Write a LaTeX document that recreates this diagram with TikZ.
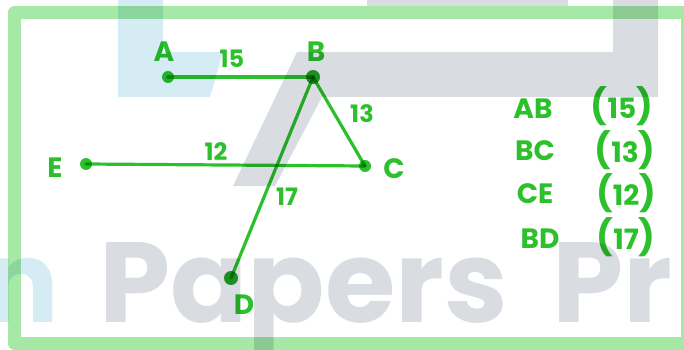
\documentclass[tikz,border=0pt]{standalone}
\usepackage{fontspec}
\setmainfont{Poppins}
\newfontfamily\wmfont{Poppins}
\newfontfamily\hand{Poppins}
\definecolor{fgreen}{RGB}{44,192,44}
\definecolor{dgreen}{RGB}{34,165,40}
\definecolor{framegreen}{RGB}{166,232,166}
\definecolor{wmgray}{RGB}{217,221,225}
\definecolor{wmblue}{RGB}{214,236,245}
\tikzset{
  dotnode/.style={circle,fill=fgreen,inner sep=0pt,minimum size=12pt},
  bigdot/.style={circle,fill=dgreen,inner sep=0pt,minimum size=14pt},
  edge/.style={draw=fgreen,line width=3.2pt,line cap=round},
  letter/.style={text=fgreen,inner sep=0pt,anchor=base,font=\hand\bfseries\fontsize{28}{28}\selectfont},
  num/.style={text=fgreen,inner sep=0pt,anchor=base,font=\hand\bfseries\fontsize{24}{24}\selectfont},
  listtxt/.style={text=fgreen,inner sep=0pt,anchor=base,font=\hand\bfseries\fontsize{28}{28}\selectfont},
  wmtext/.style={inner sep=0pt,anchor=base west,font=\wmfont\bfseries\fontsize{114}{114}\selectfont},
}
\newcommand{\bigpar}[1]{{\fontsize{35}{35}\selectfont #1}}
\begin{document}
\begin{tikzpicture}[x=1pt,y=-1pt]
\useasboundingbox (0,0) rectangle (684,350);
% watermark
\fill[wmblue] (118,0) -- (163,0) -- (163,52) -- (223,52) -- (210,97) -- (118,97) -- cycle;
\fill[wmgray] (367,0) rectangle (568,6);
\fill[wmgray] (297,52) -- (613,52) -- (613,0) -- (658,0) -- (658,97) -- (322,97) -- (275,186) -- (233,186) -- cycle;
\node[wmtext,text=wmblue,anchor=base east] (wmn) at (60,322) {n};
\node[wmtext,text=wmgray] (wmpapers) at (99,322) {Papers};
\node[wmtext,text=wmgray] (wmpr) at (552,322) {Pr};
\begin{scope}[blend mode=multiply]
% frame
\draw[framegreen,line width=13pt,line join=round] (14.5,12.5) rectangle (687,343.5);
% points
\node[dotnode] (A) at (168,77) {};
\node[bigdot] (B) at (313,77) {};
\node[dotnode] (C) at (365,166) {};
\node[dotnode] (E) at (86,164) {};
\node[bigdot] (D) at (231,278) {};
% edges
\draw[edge] (A.center) -- (B.center);
\draw[edge] (B.center) -- (C.center);
\draw[edge] (E.center) -- (C.center);
\draw[edge] (B.center) -- (D.center);
% labels
\node[letter] (lA) at (164,62) {A};
\node[letter] (lB) at (316,62) {B};
\node[letter] (lC) at (394,178) {C};
\node[letter] (lE) at (55,177) {E};
\node[letter] (lD) at (244,314) {D};
\node[num] (n15) at (232,68) {15};
\node[num] (n13) at (362,122) {13};
\node[num] (n12) at (216,160) {12};
\node[num] (n17) at (287,205) {17};
% list
\node[listtxt] (tAB) at (533,118) {AB};
\node[listtxt] (tBC) at (535,160) {BC};
\node[listtxt] (tCE) at (535,203) {CE};
\node[listtxt] (tBD) at (540,248) {BD};
\node[listtxt] (v15) at (622,118) {\bigpar{(}15\bigpar{)}};
\node[listtxt] (v13) at (625,162) {\bigpar{(}13\bigpar{)}};
\node[listtxt] (v12) at (626,205) {\bigpar{(}12\bigpar{)}};
\node[listtxt] (v17) at (626,249) {\bigpar{(}17\bigpar{)}};
\end{scope}
\end{tikzpicture}
\end{document}
